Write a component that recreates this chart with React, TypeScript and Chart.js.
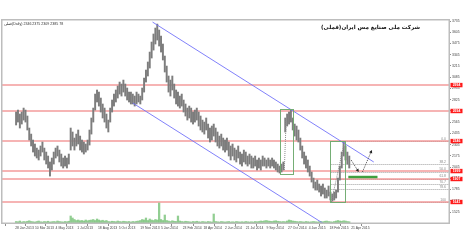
import React, { useEffect, useRef } from 'react';
import { Chart, registerables } from 'chart.js';

Chart.register(...registerables);

// ---- data ----
const highs = [
  2682, 2705, 2659, 2682, 2728, 2705, 2636, 2497, 2427, 2358,
  2312, 2265, 2242, 2289, 2335, 2265, 2219, 2173, 2104, 2150,
  2219, 2265, 2289, 2242, 2196, 2150, 2173, 2150, 2196, 2497,
  2451, 2381, 2427, 2474, 2404, 2358, 2335, 2312, 2358, 2474,
  2613, 2728, 2890, 2937, 2913, 2844, 2775, 2728, 2659, 2589,
  2728, 2821, 2890, 2937, 2983, 3029, 3006, 3052, 3006, 2960,
  2913, 2913, 2890, 2867, 2913, 2890, 2867, 2960, 3075, 3168,
  3261, 3376, 3492, 3585, 3654, 3700, 3631, 3561, 3469, 3330,
  3214, 3099, 3052, 3099, 3006, 2937, 2913, 2867, 2890, 2821,
  2775, 2728, 2751, 2728, 2682, 2705, 2728, 2682, 2636, 2589,
  2566, 2613, 2543, 2497, 2520, 2543, 2497, 2451, 2404, 2427,
  2381, 2358, 2381, 2335, 2289, 2312, 2265, 2242, 2289, 2219,
  2196, 2242, 2219, 2173, 2196, 2173, 2150, 2173, 2127, 2150,
  2127, 2173, 2150, 2127, 2150, 2127, 2150, 2127, 2104, 2080,
  2057, 2080, 2104, 2613, 2659, 2682, 2705, 2613, 2543, 2520,
  2474, 2381, 2289, 2219, 2173, 2127, 2057, 1988, 1918, 1872,
  1895, 1849, 1826, 1849, 1803, 1779, 1826, 1756, 1733, 1756,
  1779, 1918, 2057, 2219, 2335, 2289, 2219, 2173,
];
const lows = [
  2532, 2566, 2497, 2543, 2589, 2566, 2474, 2358, 2289, 2219,
  2173, 2150, 2127, 2173, 2219, 2127, 2080, 2034, 1941, 2011,
  2080, 2150, 2173, 2104, 2057, 2034, 2057, 2034, 2080, 2242,
  2289, 2242, 2289, 2312, 2242, 2219, 2196, 2219, 2242, 2300,
  2427, 2566, 2705, 2798, 2751, 2682, 2613, 2566, 2497, 2451,
  2566, 2682, 2751, 2798, 2844, 2890, 2867, 2913, 2867, 2821,
  2798, 2775, 2775, 2751, 2775, 2798, 2775, 2821, 2913, 3029,
  3099, 3191, 3307, 3399, 3469, 3515, 3446, 3376, 3284, 3145,
  3029, 2913, 2867, 2937, 2844, 2775, 2751, 2728, 2751, 2682,
  2636, 2589, 2613, 2566, 2543, 2566, 2589, 2520, 2474, 2451,
  2427, 2474, 2381, 2335, 2358, 2404, 2335, 2289, 2265, 2289,
  2242, 2219, 2242, 2173, 2127, 2173, 2127, 2104, 2150, 2080,
  2057, 2104, 2080, 2057, 2080, 2034, 2034, 2057, 2011, 2034,
  2011, 2057, 2057, 2034, 2057, 2034, 2057, 2034, 2011, 1988,
  1976, 1988, 2011, 2451, 2520, 2543, 2566, 2474, 2404, 2358,
  2335, 2242, 2150, 2080, 2034, 1988, 1941, 1872, 1803, 1779,
  1779, 1756, 1710, 1733, 1687, 1687, 1710, 1664, 1652, 1664,
  1687, 1756, 1895, 2034, 2173, 2127, 2080, 2034,
];
const volumes = [
  6, 5, 8, 4, 6, 5, 7, 9, 6, 5,
  4, 6, 8, 5, 4, 6, 5, 7, 4, 5,
  6, 5, 8, 6, 5, 4, 6, 5, 7, 28,
  20, 14, 10, 12, 9, 10, 8, 12, 9, 11,
  12, 14, 10, 16, 12, 9, 11, 8, 10, 6,
  5, 7, 6, 5, 8, 6, 5, 7, 6, 5,
  6, 4, 6, 5, 7, 8, 10, 14, 12, 20,
  10, 16, 12, 10, 14, 12, 80, 14, 10, 32,
  10, 8, 6, 9, 7, 6, 28, 8, 6, 5,
  7, 6, 5, 4, 6, 5, 7, 5, 4, 6,
  5, 4, 6, 5, 4, 36, 6, 5, 4, 6,
  5, 4, 5, 6, 4, 5, 4, 6, 5, 4,
  5, 4, 6, 5, 4, 5, 4, 6, 5, 6,
  8, 7, 9, 10, 8, 7, 6, 8, 9, 7,
  6, 5, 6, 5, 8, 12, 10, 8, 7, 6,
  5, 6, 5, 4, 6, 5, 4, 5, 6, 5,
  4, 5, 6, 5, 7, 8, 6, 5, 4, 6,
  8, 10, 8, 7, 9, 8, 6, 5,
];
const dateLabels = [
  '28 Jan 2013', '10 Mar 2013', '4 May 2013', '1 Jul 2013', '18 Aug 2013', '5 Oct 2013',
  '19 Nov 2013', '5 Jan 2014', '23 Feb 2014', '18 Apr 2014', '2 Jun 2014', '21 Jul 2014',
  '9 Sep 2014', '27 Oct 2014', '4 Jan 2015', '18 Feb 2015', '21 Apr 2015',
];
const dateBarIndex = [-0.5, 10, 21, 32.5, 43.5, 54.5, 66, 77, 88.5, 99.5, 111, 122, 133, 144.5, 155.5, 166.5, 178];
const priceTicks = [3735, 3605, 3475, 3345, 3215, 3085, 2955, 2825, 2695, 2565, 2435, 2305, 2175, 2045, 1915, 1785, 1655, 1525];
const redLevels = [2994, 2694, 2346, 1999, 1907, 1641];
const fibLabels = ['0.0', '38.2', '50.0', '61.8', '70.7', '78.6', '100'];
const fibLevels = [2346, 2076, 1993, 1910, 1848, 1791, 1641];
const fibStart = 167.5;
const upperChannel = [[72.5, 3723], [190, 2104]];
const lowerChannel = [[62, 2786], [175, 1230]];
const boxes = [[140, 2717, 147, 1965], [166.5, 2346, 174.5, 1641]];
const supportLine = [[176.5, 1930], [192, 1930]];
const arrows = [[[178, 2127], [182, 1988]], [[184, 1988], [189, 2242]]];
const gapLine = [[142.5, 2011], [143.5, 2613]];
const headerText = 'فملی(Daily) 2346 2375 2309 2385 78';
const titleText = 'شرکت ملی صنایع مس ایران(فملی)';

const annotations = {
  id: 'annotations',
  beforeDatasetsDraw(chart: any) {
    const { ctx, chartArea: a, scales } = chart;
    const x = scales.x, y = scales.y;
    ctx.save();
    ctx.beginPath();
    ctx.rect(a.left, a.top, a.right - a.left, a.bottom - a.top);
    ctx.clip();
    ctx.strokeStyle = '#a0a0a0';
    ctx.lineWidth = 1;
    ctx.setLineDash([1, 1]);
    const fx = x.getPixelForValue(fibStart);
    fibLevels.forEach((v) => {
      const py = Math.round(y.getPixelForValue(v)) + 0.5;
      ctx.beginPath();
      ctx.moveTo(fx, py);
      ctx.lineTo(a.right, py);
      ctx.stroke();
    });
    ctx.setLineDash([]);
    ctx.strokeStyle = 'rgba(240,130,130,0.8)';
    ctx.lineWidth = 1.5;
    redLevels.forEach((v) => {
      const py = y.getPixelForValue(v);
      ctx.beginPath();
      ctx.moveTo(a.left, py);
      ctx.lineTo(a.right, py);
      ctx.stroke();
    });
    ctx.restore();
  },
  afterDatasetsDraw(chart: any) {
    const { ctx, chartArea: a, scales } = chart;
    const x = scales.x, y = scales.y;
    const P = (p: number[]) => [x.getPixelForValue(p[0]), y.getPixelForValue(p[1])];
    ctx.save();
    ctx.beginPath();
    ctx.rect(a.left, a.top, a.right - a.left, a.bottom - a.top);
    ctx.clip();
    ctx.strokeStyle = '#8a8a8a';
    ctx.lineWidth = 1;
    ctx.setLineDash([1, 1]);
    {
      const p0 = P(gapLine[0]), p1 = P(gapLine[1]);
      ctx.beginPath(); ctx.moveTo(p0[0], p0[1]); ctx.lineTo(p1[0], p1[1]); ctx.stroke();
      const q0 = P([fibStart, fibLevels[6]]), q1 = P([174.5, fibLevels[0]]);
      ctx.beginPath(); ctx.moveTo(q0[0], q0[1]); ctx.lineTo(q1[0], q1[1]); ctx.stroke();
    }
    ctx.setLineDash([]);
    ctx.strokeStyle = 'rgba(115,115,250,0.9)';
    ctx.lineWidth = 1;
    [upperChannel, lowerChannel].forEach((ln) => {
      const p0 = P(ln[0]), p1 = P(ln[1]);
      ctx.beginPath(); ctx.moveTo(p0[0], p0[1]); ctx.lineTo(p1[0], p1[1]); ctx.stroke();
    });
    ctx.strokeStyle = 'rgba(110,170,110,0.95)';
    ctx.lineWidth = 1;
    boxes.forEach((b) => {
      const p0 = P([b[0], b[1]]), p1 = P([b[2], b[3]]);
      ctx.strokeRect(Math.round(p0[0]) + 0.5, Math.round(p0[1]) + 0.5, Math.round(p1[0] - p0[0]), Math.round(p1[1] - p0[1]));
    });
    ctx.strokeStyle = '#3f9f3f';
    ctx.lineWidth = 2.5;
    {
      const p0 = P(supportLine[0]), p1 = P(supportLine[1]);
      ctx.beginPath(); ctx.moveTo(p0[0], p0[1]); ctx.lineTo(p1[0], p1[1]); ctx.stroke();
    }
    ctx.strokeStyle = '#222';
    ctx.fillStyle = '#222';
    ctx.lineWidth = 0.8;
    arrows.forEach((ar) => {
      const p0 = P(ar[0]), p1 = P(ar[1]);
      ctx.setLineDash([1, 1]);
      ctx.beginPath(); ctx.moveTo(p0[0], p0[1]); ctx.lineTo(p1[0], p1[1]); ctx.stroke();
      ctx.setLineDash([]);
      const ang = Math.atan2(p1[1] - p0[1], p1[0] - p0[0]);
      const L = 3.5, W = 0.5;
      ctx.beginPath();
      ctx.moveTo(p1[0], p1[1]);
      ctx.lineTo(p1[0] - L * Math.cos(ang - W), p1[1] - L * Math.sin(ang - W));
      ctx.lineTo(p1[0] - L * Math.cos(ang + W), p1[1] - L * Math.sin(ang + W));
      ctx.closePath();
      ctx.fill();
    });
    ctx.fillStyle = '#8a8a8a';
    ctx.font = '3.4px "Liberation Sans", Arial, sans-serif';
    ctx.textAlign = 'right';
    ctx.textBaseline = 'bottom';
    fibLevels.forEach((v, i) => {
      ctx.fillText(fibLabels[i], a.right - 3, y.getPixelForValue(v) - 0.5);
    });
    ctx.fillStyle = '#333';
    ctx.textAlign = 'left';
    ctx.textBaseline = 'middle';
    ctx.font = '3.6px "Liberation Sans", Arial, sans-serif';
    ctx.fillText(headerText, a.left + 2, a.top + 3.5);
    ctx.fillStyle = '#111';
    ctx.font = 'bold 5.6px "DejaVu Sans", sans-serif';
    ctx.direction = 'rtl';
    ctx.textAlign = 'right';
    ctx.fillText(titleText, 420, 27.5);
    ctx.restore();
  },
  afterDraw(chart: any) {
    const { ctx, chartArea: a, scales } = chart;
    const y = scales.y;
    ctx.save();
    ctx.strokeStyle = '#bdbdbd';
    ctx.lineWidth = 1.5;
    ctx.strokeRect(a.left - 0.25, a.top - 0.25, a.right - a.left + 0.5, a.bottom - a.top + 0.5);
    ctx.font = 'bold 3.4px "Liberation Sans", Arial, sans-serif';
    ctx.textAlign = 'center';
    ctx.textBaseline = 'middle';
    redLevels.forEach((v) => {
      const py = y.getPixelForValue(v);
      ctx.fillStyle = '#ff1a1a';
      ctx.fillRect(a.right + 1.5, py - 2.2, 12, 4.4);
      ctx.fillStyle = '#fff';
      ctx.fillText(String(v), a.right + 7.5, py + 0.2);
    });
    ctx.restore();
  },
};

export default function App() {
  const ref = useRef<HTMLCanvasElement | null>(null);
  useEffect(() => {
    document.body.style.margin = '0';
    if (!ref.current) return;
    const priceData = highs.map((h, i) => ({ x: i, y: [lows[i], h] }));
    const volData = volumes.map((v, i) => ({ x: i, y: v }));
    const chart = new Chart(ref.current, {
      type: 'bar',
      data: {
        datasets: [
          {
            data: volData as any,
            yAxisID: 'yv',
            backgroundColor: 'rgba(110,190,110,0.75)',
            barThickness: 1.6,
            grouped: false,
          } as any,
          {
            data: priceData as any,
            yAxisID: 'y',
            backgroundColor: '#7d7d7d',
            barThickness: 1.3,
            grouped: false,
          } as any,
        ],
      },
      options: {
        animation: false,
        responsive: false,
        layout: { padding: { top: 20, left: 2, right: 0, bottom: 0 } },
        plugins: { legend: { display: false }, tooltip: { enabled: false } },
        scales: {
          x: {
            type: 'linear',
            min: -0.5,
            max: 223,
            afterBuildTicks: (s: any) => { s.ticks = dateBarIndex.map((v) => ({ value: v })); },
            afterFit: (s: any) => { s.height = 22; },
            grid: { drawOnChartArea: false, tickLength: 3, color: '#8d8d8d' },
            border: { display: false },
            ticks: {
              align: 'start',
              autoSkip: false,
              maxRotation: 0,
              padding: 0,
              color: '#444',
              font: { size: 3.4, family: '"Liberation Sans", Arial, sans-serif' },
              callback: (_v: any, i: number) => dateLabels[i],
            },
          } as any,
          y: {
            position: 'right',
            min: 1398,
            max: 3747,
            afterBuildTicks: (s: any) => { s.ticks = priceTicks.map((v) => ({ value: v })); },
            afterFit: (s: any) => { s.width = 16; },
            grid: { drawOnChartArea: false, tickLength: 2, color: '#8d8d8d' },
            border: { display: false },
            ticks: {
              autoSkip: false,
              padding: 1,
              color: '#444',
              font: { size: 3.4, family: '"Liberation Sans", Arial, sans-serif' },
              callback: (v: any) => String(v),
            },
          } as any,
          yv: { display: false, min: 0, max: 812 },
        },
      },
      plugins: [annotations],
    });
    return () => chart.destroy();
  }, []);
  return (
    <div style={{ width: 465, height: 245, background: '#fff' }}>
      <canvas ref={ref} width={465} height={245} style={{ display: 'block', width: 465, height: 245 }} />
    </div>
  );
}
